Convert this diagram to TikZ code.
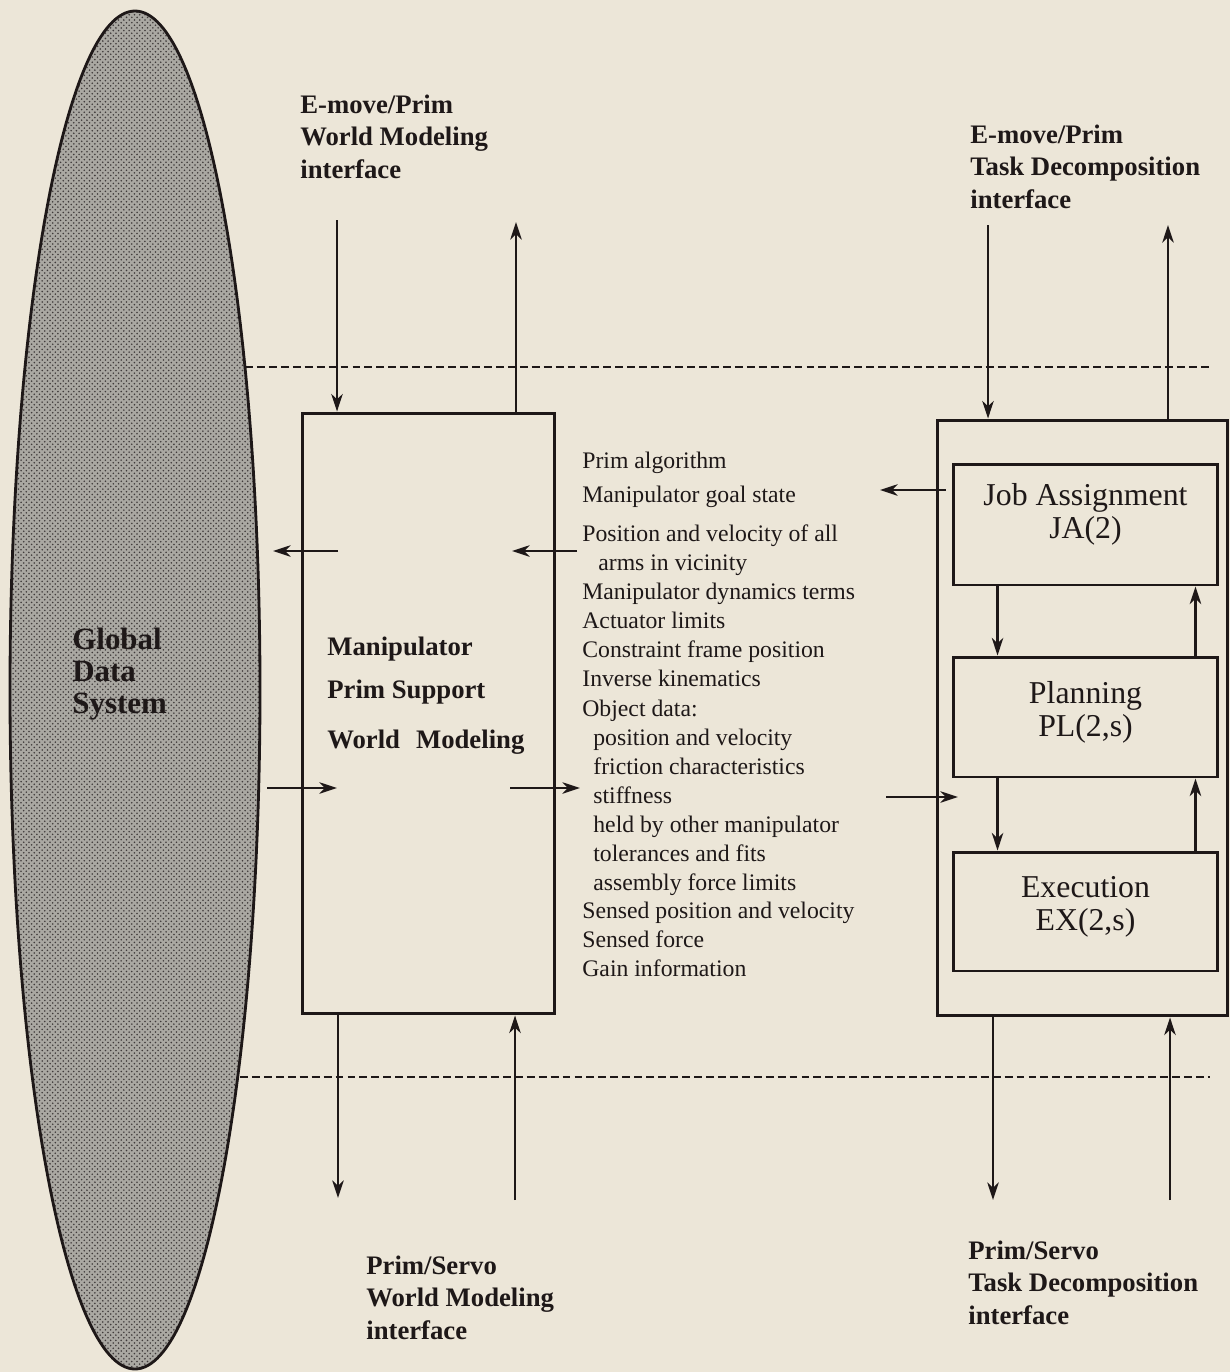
\documentclass[tikz,border=0pt]{standalone}
\usepackage{fontspec}
\setmainfont{Liberation Serif}
\usetikzlibrary{patterns,arrows.meta}
\definecolor{paper}{RGB}{236,230,216}
\definecolor{ink}{RGB}{30,24,24}
\definecolor{screen}{RGB}{170,168,162}
\tikzset{
  flow/.style={draw=ink, line width=1.4pt, -{Stealth[length=10pt,width=6.5pt,inset=3pt]}},
  box/.style={draw=ink, line width=1.7pt, rectangle, inner sep=0pt, text=ink},
  boundary/.style={draw=ink, line width=1.6pt, dash pattern=on 4.5pt off 2.3pt},
  iface/.style={anchor=base west, align=left, inner sep=0pt, text=ink,
    font=\fontsize{15.2}{18.4}\selectfont\bfseries},
  datum/.style={anchor=base west, inner sep=0pt, text=ink,
    font=\fontsize{13.5}{16}\selectfont},
  module/.style={box, minimum width=5.3cm, align=center, text depth=9.6pt,
    font=\fontsize{18.1}{18.7}\selectfont}
}
\begin{document}
\begin{tikzpicture}[x=0.02cm,y=-0.02cm]
		%%%%% PAPER %%%%%
		\fill[paper] (0,0) rectangle (1230,1372);
		\useasboundingbox (0,0) rectangle (1230,1372);
		
		%%%%% GLOBAL DATA SYSTEM %%%%%
		\draw[ink, line width=1.6pt, preaction={fill=screen}, pattern=crosshatch dots, pattern color=ink!85]
			(135,690) ellipse (125 and 679);
		\node[anchor=base west, align=left, inner sep=0pt, text=ink,
			font=\fontsize{17.6}{18.1}\selectfont\bfseries] (gds) at (72,713) {Global\\Data\\System};
		
		%%%%% INTERFACE BOUNDARIES %%%%%
		\draw[boundary] (245,367) -- (1210,367);
		\draw[boundary] (240,1077) -- (1210,1077);
		
		%%%%% WORLD MODELING %%%%%
		\node[box, minimum width=5.06cm, minimum height=12.02cm] (wm) at (428.5,713.5) {};
		\node[iface] (wm1) at (327,655) {Manipulator};
		\node[iface] (wm2) at (327,698) {Prim Support};
		\node[iface] (wm3) at (327,748) {World\hspace{0.6em}Modeling};
		
		%%%%% TASK DECOMPOSITION %%%%%
		\node[box, minimum width=5.82cm, minimum height=11.92cm] (td) at (1082.5,718) {};
		\node[module, minimum height=2.42cm, text depth=15pt] (ja) at (1085.5,524.5) {Job Assignment\\JA(2)};
		\node[module, minimum height=2.4cm] (pl) at (1085.5,717) {Planning\\PL(2,s)};
		\node[module, minimum height=2.38cm] (ex) at (1085.5,911.5) {Execution\\EX(2,s)};
		
		\draw[flow] ([xshift=0.92cm]ja.south west) -- ([xshift=0.92cm]pl.north west);
		\draw[flow] ([xshift=-0.48cm]pl.north east) -- ([xshift=-0.48cm]ja.south east);
		\draw[flow] ([xshift=0.92cm]pl.south west) -- ([xshift=0.92cm]ex.north west);
		\draw[flow] ([xshift=-0.48cm]ex.north east) -- ([xshift=-0.48cm]pl.south east);
		
		%%%%% INTERFACE LABELS %%%%%
		\node[iface] (emwm) at (300,178) {E-move/Prim\\World Modeling\\interface};
		\node[iface] (emtd) at (970,208) {E-move/Prim\\Task Decomposition\\interface};
		\node[iface] (pswm) at (366,1339) {Prim/Servo\\World Modeling\\interface};
		\node[iface] (pstd) at (968,1324) {Prim/Servo\\Task Decomposition\\interface};
		
		%%%%% VERTICAL FLOWS %%%%%
		\coordinate (wmin) at (337,220);
		\coordinate (wmout) at (516,222);
		\coordinate (wmdown) at (338,1198);
		\coordinate (wmup) at (515,1200);
		\draw[flow] (wmin) -- (wmin |- wm.north);
		\draw[flow] (wmout |- wm.north) -- (wmout);
		\draw[flow] (wmdown |- wm.south) -- (wmdown);
		\draw[flow] (wmup) -- (wmup |- wm.south);
		
		\coordinate (tdin) at (988,225);
		\coordinate (tdout) at (1168,225);
		\coordinate (tddown) at (993,1200);
		\coordinate (tdup) at (1170,1200);
		\draw[flow] (tdin) -- (tdin |- td.north);
		\draw[flow] (tdout |- td.north) -- (tdout);
		\draw[flow] (tddown |- td.south) -- (tddown);
		\draw[flow] (tdup) -- (tdup |- td.south);
		
		%%%%% HORIZONTAL FLOWS %%%%%
		\coordinate (gq1) at (338,551);
		\coordinate (gq2) at (273,551);
		\coordinate (gu1) at (267,788);
		\coordinate (gu2) at (337,788);
		\draw[flow] (gq1) -- (gq2);
		\draw[flow] (gu1) -- (gu2);
		
		\coordinate (dq1) at (577,551);
		\coordinate (dq2) at (512,551);
		\coordinate (du1) at (510,788);
		\coordinate (du2) at (580,788);
		\draw[flow] (dq1) -- (dq2);
		\draw[flow] (du1) -- (du2);
		
		\coordinate (goal) at (880,490);
		\coordinate (feed) at (886,797);
		\draw[flow] (ja.west |- goal) ++(-0.12cm,0) -- (goal);
		\draw[flow] (feed) -- ++(1.44cm,0);
		
		%%%%% DATA ITEMS %%%%%
		\foreach \x/\y/\t in {582/468/Prim algorithm,
				582/502/Manipulator goal state,
				582/541/Position and velocity of all,
				598/570/arms in vicinity,
				582/599/Manipulator dynamics terms,
				582/628/Actuator limits,
				582/657/Constraint frame position,
				582/686/Inverse kinematics,
				582/716/Object data:,
				593/745/position and velocity,
				593/774/friction characteristics,
				593/803/stiffness,
				593/832/held by other manipulator,
				593/861/tolerances and fits,
				593/890/assembly force limits,
				582/918/Sensed position and velocity,
				582/947/Sensed force,
				582/976/Gain information}
			\node[datum] (item\y) at (\x,\y) {\t};
		
		%%%%% END %%%%%
	\end{tikzpicture}
\end{document}
